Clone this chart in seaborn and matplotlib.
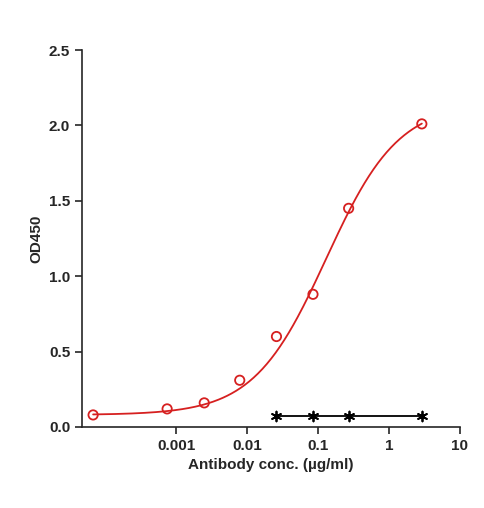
import numpy as np
import pandas as pd
import matplotlib.pyplot as plt
import seaborn as sns

sns.set_style("ticks")
plt.rcParams['font.family'] = ['Liberation Sans', 'DejaVu Sans']

# data
conc = [0.000068, 0.00075, 0.0025, 0.0079, 0.026, 0.085, 0.27, 2.9]
od = [0.08, 0.12, 0.16, 0.31, 0.60, 0.88, 1.45, 2.01]
ctrl_conc = [0.026, 0.085, 0.27, 2.9]
ctrl_od = [0.07, 0.07, 0.07, 0.07]

# 4PL fit parameters (estimated)
bottom, top, ec50, hill = 0.08, 2.15, 0.13, 0.85
xfit = np.logspace(np.log10(0.000068), np.log10(2.9), 300)
yfit = bottom + (top - bottom) / (1 + (ec50 / xfit) ** hill)

df = pd.DataFrame({"conc": conc, "od": od})
dc = pd.DataFrame({"conc": ctrl_conc, "od": ctrl_od})

fig = plt.figure(figsize=(4.85, 5.08), dpi=100)
ax = fig.add_axes([82/485, 1-427/508, (460-82)/485, (427-50)/508])

sns.lineplot(x=xfit, y=yfit, color="#d62020", lw=1.3, ax=ax)
sns.scatterplot(data=df, x="conc", y="od", marker="o", s=45, facecolors="none",
                edgecolor="#d62020", linewidth=1.3, ax=ax, zorder=3)
sns.lineplot(data=dc, x="conc", y="od", color="black", lw=1.3, ax=ax)
ax.scatter(ctrl_conc, ctrl_od, marker=(6, 2, 0), s=50, color="black", linewidth=1.3, zorder=4)

ax.set_xscale("log")
ax.set_xlim(10 ** (-3 - 94/71), 10)
ax.set_ylim(0, 2.5)
ax.set_yticks([0, 0.5, 1.0, 1.5, 2.0, 2.5])
ax.set_yticklabels(["0.0", "0.5", "1.0", "1.5", "2.0", "2.5"])
ax.set_xticks([0.001, 0.01, 0.1, 1, 10])
ax.set_xticklabels(["0.001", "0.01", "0.1", "1", "10"])
ax.minorticks_off()
for lab in ax.get_xticklabels() + ax.get_yticklabels():
    lab.set_fontweight("bold")
    lab.set_fontsize(11)
ax.tick_params(width=1.2, length=5)
for s in ["left", "bottom"]:
    ax.spines[s].set_linewidth(1.2)
sns.despine(ax=ax)
ax.set_xlabel("Antibody conc. (µg/ml)", fontweight="bold", fontsize=11)
ax.set_ylabel("OD450", fontweight="bold", fontsize=11)

fig.savefig("out.png", dpi=100)
